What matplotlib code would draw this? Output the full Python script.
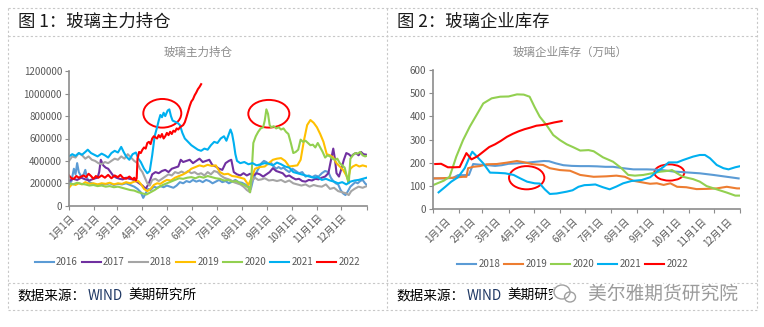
import numpy as np
import matplotlib
matplotlib.use('Agg')
import matplotlib.pyplot as plt
from matplotlib.lines import Line2D
from matplotlib.patches import Ellipse
from matplotlib.transforms import IdentityTransform
import matplotlib.patheffects as pe

plt.rcParams['font.family'] = ['Noto Sans CJK SC', 'DejaVu Sans']

W, H = 764, 327

# 月初位置（按自然日），最后一个为年末
month_days = [0, 31, 59, 90, 120, 151, 181, 212, 243, 273, 304, 334, 365]
month_labels = [f'{m}月1日' for m in range(1, 13)]

# ---------------- 图1 玻璃主力持仓（单位：千手） ----------------
d16 = [0, 3, 6, 8, 10, 12, 15, 18, 20, 22, 25, 28, 32, 36, 40, 45, 50, 55, 60, 65,
       70, 75, 80, 84, 88, 91, 94, 97, 100, 104, 108, 112, 116, 120, 124, 128, 132, 136, 140, 144,
       148, 152, 156, 160, 164, 168, 172, 176, 180, 184, 188, 192, 196, 200, 204, 208, 212, 216, 220, 223,
       226, 230, 233, 236, 239, 242, 245, 248, 251, 254, 257, 260, 263, 266, 270, 274, 278, 282, 286, 290,
       294, 298, 302, 306, 310, 314, 318, 321, 324, 327, 330, 333, 336, 339, 342, 345, 348, 351, 354, 357,
       360, 363, 365]
oi16 = [190, 220, 330, 280, 380, 300, 260, 280, 320, 250, 210, 200, 190, 185, 195, 190, 200, 185, 195, 190,
        200, 185, 170, 150, 120, 70, 110, 150, 140, 170, 160, 175, 165, 180, 170, 160, 180, 210, 200, 220,
        210, 230, 215, 225, 210, 230, 220, 200, 215, 230, 210, 220, 200, 215, 230, 210, 205, 190, 170, 150,
        240, 300, 340, 380, 400, 390, 370, 380, 350, 330, 345, 330, 340, 320, 300, 330, 310, 290, 300, 260,
        270, 255, 270, 260, 290, 310, 300, 250, 220, 200, 190, 140, 110, 95, 130, 170, 190, 210, 200, 220,
        230, 200, 185]

d17 = [0, 5, 10, 15, 20, 25, 30, 35, 37, 39, 42, 45, 48, 51, 54, 58, 62, 66, 70, 74,
       78, 82, 86, 90, 94, 98, 102, 106, 110, 114, 118, 122, 126, 130, 134, 137, 140, 144, 148, 152,
       156, 160, 164, 168, 172, 176, 180, 184, 188, 192, 196, 199, 202, 206, 210, 214, 218, 222, 226, 230,
       234, 238, 242, 246, 250, 254, 258, 262, 266, 270, 274, 278, 282, 286, 290, 294, 298, 302, 306, 310,
       314, 318, 321, 324, 326, 328, 331, 334, 337, 340, 343, 346, 349, 352, 355, 358, 361, 365]
oi17 = [220, 240, 230, 250, 235, 225, 240, 250, 300, 410, 360, 340, 330, 300, 270, 250, 240, 235, 250, 240,
        235, 220, 200, 180, 150, 200, 280, 300, 290, 310, 320, 300, 330, 340, 350, 410, 390, 400, 410, 380,
        400, 420, 390, 400, 410, 360, 350, 330, 320, 380, 400, 410, 300, 280, 270, 290, 270, 285, 270, 290,
        280, 260, 280, 300, 335, 310, 300, 290, 260, 270, 250, 235, 240, 220, 215, 230, 225, 240, 235, 250,
        260, 290, 400, 510, 420, 290, 260, 330, 410, 470, 460, 440, 460, 470, 450, 480, 460, 455]

d18 = [0, 4, 8, 12, 16, 20, 24, 28, 32, 36, 40, 44, 48, 52, 56, 60, 64, 68, 72, 76,
       80, 84, 87, 90, 93, 96, 99, 102, 106, 110, 114, 118, 122, 126, 130, 134, 138, 142, 146, 150,
       154, 158, 162, 166, 170, 174, 178, 182, 186, 190, 194, 198, 202, 206, 210, 214, 218, 222, 224, 228,
       232, 236, 240, 245, 250, 255, 260, 265, 270, 275, 280, 285, 290, 295, 300, 305, 310, 315, 320, 325,
       330, 335, 340, 343, 346, 350, 355, 360, 365]
oi18 = [400, 440, 430, 470, 450, 420, 440, 410, 400, 380, 370, 390, 380, 400, 420, 410, 440, 420, 460, 430,
        400, 380, 330, 300, 250, 200, 180, 230, 240, 220, 240, 260, 280, 270, 300, 290, 305, 290, 310, 290,
        300, 280, 290, 270, 300, 280, 310, 300, 270, 250, 240, 230, 210, 200, 190, 170, 140, 120, 220, 250,
        230, 235, 245, 225, 230, 220, 230, 210, 225, 200, 190, 180, 190, 170, 185, 175, 170, 190, 150, 160,
        130, 120, 110, 95, 130, 150, 170, 160, 175]

d19 = [0, 4, 8, 12, 16, 20, 25, 30, 35, 40, 45, 50, 55, 60, 65, 70, 75, 80, 85, 88,
       92, 96, 100, 104, 108, 112, 116, 120, 125, 130, 135, 140, 145, 150, 155, 160, 165, 170, 175, 180,
       185, 190, 195, 200, 205, 210, 215, 220, 224, 228, 234, 240, 245, 250, 255, 260, 265, 270, 275, 280,
       284, 288, 292, 296, 300, 304, 308, 312, 316, 320, 324, 328, 332, 336, 340, 342, 345, 348, 352, 356,
       360, 365]
oi19 = [160, 195, 185, 200, 190, 210, 195, 200, 190, 200, 195, 205, 190, 200, 195, 210, 200, 215, 220, 195,
        150, 130, 150, 185, 200, 195, 215, 230, 225, 250, 265, 280, 300, 330, 345, 360, 350, 365, 355, 360,
        300, 280, 285, 265, 260, 250, 240, 185, 250, 330, 345, 350, 380, 410, 420, 425, 400, 350, 355, 360,
        410, 580, 720, 765, 740, 700, 640, 570, 460, 450, 430, 380, 350, 320, 270, 230, 330, 350, 365, 350,
        360, 350]

d20 = [0, 5, 10, 15, 20, 25, 30, 35, 40, 45, 50, 55, 60, 65, 70, 75, 80, 85, 90, 95,
       100, 105, 110, 115, 120, 125, 130, 135, 140, 145, 150, 155, 160, 165, 170, 175, 180, 185, 190, 195,
       200, 205, 210, 215, 220, 222, 224, 226, 229, 232, 235, 238, 240, 242, 244, 246, 248, 251, 254, 257,
       260, 263, 266, 269, 272, 275, 278, 281, 284, 287, 290, 293, 296, 299, 302, 305, 308, 311, 314, 317,
       320, 323, 326, 329, 332, 335, 338, 341, 343, 345, 348, 351, 354, 357, 360, 363, 365]
oi20 = [200, 190, 205, 195, 190, 180, 185, 175, 180, 170, 175, 165, 170, 160, 150, 140, 135, 120, 110, 100,
        120, 140, 165, 185, 200, 215, 230, 245, 240, 250, 255, 245, 260, 250, 265, 255, 245, 240, 225, 230,
        215, 220, 200, 185, 160, 120, 300, 560, 620, 660, 690, 700, 760, 860, 820, 720, 700, 710, 690, 700,
        680, 690, 660, 640, 560, 470, 480, 500, 590, 570, 580, 560, 540, 545, 520, 560, 520, 480, 430, 450,
        440, 420, 410, 420, 380, 360, 340, 250, 200, 420, 450, 470, 465, 480, 450, 440, 445]

d21 = [0, 4, 8, 12, 16, 20, 23, 27, 31, 35, 40, 44, 48, 52, 56, 60, 64, 67, 70, 74,
       78, 82, 85, 88, 92, 96, 99, 102, 105, 108, 110, 112, 114, 116, 118, 121, 123, 125, 127, 130,
       133, 136, 139, 142, 146, 150, 154, 158, 162, 166, 170, 174, 178, 182, 186, 190, 193, 196, 198, 200,
       202, 204, 206, 210, 215, 220, 225, 230, 235, 240, 245, 250, 255, 260, 265, 270, 275, 280, 285, 290,
       295, 300, 305, 310, 315, 320, 325, 330, 335, 340, 345, 350, 355, 360, 365]
oi21 = [440, 460, 445, 470, 455, 480, 500, 470, 455, 440, 465, 450, 430, 470, 490, 475, 525, 480, 440, 410,
        460, 475, 420, 390, 330, 290, 310, 450, 620, 700, 760, 810, 790, 830, 800, 850, 860, 800, 760, 750,
        740, 720, 650, 600, 570, 540, 520, 500, 490, 510, 500, 540, 570, 560, 600, 620, 580, 640, 680, 640,
        560, 460, 400, 380, 390, 370, 380, 360, 370, 380, 375, 360, 385, 370, 350, 340, 300, 290, 280, 270,
        260, 250, 255, 230, 240, 225, 215, 200, 210, 190, 215, 225, 230, 240, 250]

d22 = [0, 3, 6, 9, 12, 15, 18, 21, 24, 27, 30, 33, 36, 40, 44, 48, 52, 56, 60, 63,
       66, 70, 74, 78, 80, 82, 83, 84, 86, 88, 90, 92, 94, 96, 98, 100, 102, 104, 106, 108,
       110, 112, 114, 116, 118, 120, 122, 124, 126, 128, 130, 132, 134, 136, 138, 140, 142, 144, 146, 148,
       150, 152, 154, 156, 158, 160, 162]
oi22 = [270, 245, 240, 265, 250, 260, 270, 255, 285, 265, 240, 265, 250, 270, 250, 275, 245, 270, 255, 275,
        250, 240, 260, 235, 250, 225, 245, 420, 480, 470, 500, 520, 510, 560, 570, 550, 600, 620, 610, 600,
        630, 610, 640, 600, 620, 650, 630, 660, 640, 670, 660, 690, 680, 700, 710, 720, 745, 790, 840, 890,
        930, 950, 985, 1010, 1040, 1060, 1085]

oi_series = [('2016', d16, oi16, '#5B9BD5'), ('2017', d17, oi17, '#7030A0'),
             ('2018', d18, oi18, '#A5A5A5'), ('2019', d19, oi19, '#FFC000'),
             ('2020', d20, oi20, '#92D050'), ('2021', d21, oi21, '#00B0F0'),
             ('2022', d22, oi22, '#FF0000')]

# ---------------- 图2 玻璃企业库存（万吨，周度） ----------------
sd18 = [1, 12, 24, 30, 36, 43, 48, 56, 66, 74, 82, 90, 100, 112, 123, 132, 138, 146, 155, 165,
        175, 185, 195, 205, 214, 226, 238, 254, 270, 285, 301, 317, 333, 349, 363]
st18 = [133, 133, 135, 147, 147, 148, 195, 192, 190, 187, 190, 196, 198, 201, 205, 208, 207, 198, 190, 187,
        186, 186, 185, 183, 183, 177, 172, 172, 170, 163, 159, 155, 148, 140, 133]

sd19 = [1, 12, 24, 36, 40, 42, 48, 56, 64, 76, 88, 100, 108, 119, 131, 139, 151, 163, 175, 191,
        206, 218, 228, 238, 250, 258, 266, 274, 282, 290, 301, 313, 325, 337, 349, 361, 365]
st19 = [133, 134, 136, 140, 140, 177, 183, 186, 194, 195, 201, 208, 203, 194, 191, 177, 169, 166, 148, 140,
        142, 145, 140, 123, 115, 110, 112, 105, 112, 97, 95, 87, 88, 90, 97, 90, 90]

sd20 = [1, 13, 20, 24, 28, 36, 44, 52, 60, 70, 80, 90, 100, 108, 115, 121, 127, 135, 143, 151,
        159, 167, 175, 185, 191, 202, 214, 224, 232, 240, 250, 260, 270, 280, 284, 290, 297, 309, 317, 325,
        337, 349, 359, 365]
st20 = [105, 123, 140, 183, 227, 298, 356, 406, 456, 478, 485, 486, 495, 494, 485, 440, 399, 363, 320, 298,
        280, 267, 253, 255, 250, 224, 205, 177, 148, 145, 148, 155, 162, 166, 169, 155, 140, 130, 119, 100,
        86, 72, 59, 59]

sd21 = [7, 15, 22, 30, 38, 44, 47, 53, 60, 68, 77, 86, 96, 104, 112, 121, 127, 133, 139, 147,
        159, 166, 173, 180, 186, 193, 202, 210, 218, 226, 236, 248, 258, 266, 274, 280, 290, 297, 309, 317,
        323, 329, 337, 345, 351, 359, 365]
st21 = [73, 97, 119, 138, 177, 227, 248, 225, 198, 158, 157, 155, 148, 133, 119, 112, 111, 86, 66, 68,
        76, 82, 97, 104, 105, 107, 95, 86, 98, 112, 122, 126, 138, 162, 183, 202, 202, 212, 227, 234,
        234, 220, 191, 177, 172, 181, 186]

sd22 = [3, 10, 18, 26, 32, 40, 46, 53, 60, 67, 74, 81, 88, 95, 102, 109, 116, 123, 130, 137,
        144, 153]
st22 = [195, 196, 181, 181, 182, 242, 215, 228, 248, 268, 280, 295, 312, 325, 336, 345, 352, 360, 363, 368,
        374, 380]

stock_series = [('2018', sd18, st18, '#5B9BD5'), ('2019', sd19, st19, '#ED7D31'),
                ('2020', sd20, st20, '#92D050'), ('2021', sd21, st21, '#00B0F0'),
                ('2022', sd22, st22, '#FF0000')]


def fx(x):
    return x / W


def fy(y):
    return 1 - y / H


fig = plt.figure(figsize=(W / 100, H / 100), dpi=100)
fig.patch.set_facecolor('white')

# 虚线外框
box_kw = dict(color='#c8c8c8', lw=0.8, ls=(0, (2, 2)))
for y in [8.3, 35.7, 283, 310]:
    fig.add_artist(Line2D([fx(8.3), fx(756.7)], [fy(y), fy(y)], **box_kw))
for x in [8.3, 386.7, 756.7]:
    fig.add_artist(Line2D([fx(x), fx(x)], [fy(8.3), fy(310)], **box_kw))

# 标题
fig.text(fx(18), fy(21.5), '图 1：玻璃主力持仓', fontsize=12.5, va='center', ha='left', color='#1a1a1a')
fig.text(fx(397), fy(21.5), '图 2：玻璃企业库存', fontsize=12.5, va='center', ha='left', color='#1a1a1a')
fig.text(fx(198), fy(52), '玻璃主力持仓', fontsize=8.3, va='center', ha='center', color='#8c8c8c')
fig.text(fx(570), fy(52), '玻璃企业库存（万吨）', fontsize=8.3, va='center', ha='center', color='#8c8c8c')

# 数据来源
for x0 in [17, 396]:
    fig.text(fx(x0), fy(296), '数据来源：', fontsize=9.8, va='center', ha='left', color='black')
    fig.text(fx(x0 + 71), fy(296), 'WIND', fontsize=9.8, va='center', ha='left', color='#1f3864')
    fig.text(fx(x0 + 111), fy(296), '美期研究所', fontsize=9.8, va='center', ha='left', color='black')


def style_axis(ax):
    for s in ['top', 'right']:
        ax.spines[s].set_visible(False)
    for s in ['left', 'bottom']:
        ax.spines[s].set_color('#8c8c8c')
        ax.spines[s].set_linewidth(1.2)
    ax.tick_params(axis='both', colors='#8c8c8c', labelcolor='#595959', labelsize=7,
                   length=3, width=0.8, pad=2)
    ax.set_xlim(0, 365)
    ax.set_xticks(month_days)
    ax.set_facecolor('none')


# 图1
ax1 = fig.add_axes([fx(69), fy(205.7), (366.7 - 69) / W, (205.7 - 71.3) / H])
for name, d, v, c in oi_series:
    ax1.plot(d, np.array(v) * 1000, color=c, lw=1.5, label=name)
style_axis(ax1)
ax1.set_ylim(0, 1200000)
ax1.set_yticks(range(0, 1200001, 200000))
ax1.set_yticklabels([str(v) for v in range(0, 1200001, 200000)])
ax1.set_xticklabels(month_labels + [''], rotation=45, ha='right', rotation_mode='anchor')
ax1.add_patch(Ellipse((114.4, 825000), 46.6, 256000, fill=False, ec='#FF0000', lw=1.4, clip_on=False))
ax1.add_patch(Ellipse((245, 821000), 50.3, 247000, fill=False, ec='#FF0000', lw=1.4, clip_on=False))
ax1.legend(ncol=7, loc='center', bbox_to_anchor=(fx(197.3), fy(262.3)), bbox_transform=fig.transFigure,
           frameon=False, fontsize=7, handlelength=1.95, handletextpad=0.25, columnspacing=0.4,
           labelcolor='#595959')

# 图2
ax2 = fig.add_axes([fx(432.7), fy(209.3), (740.3 - 432.7) / W, (209.3 - 70) / H])
for name, d, v, c in stock_series:
    ax2.plot(d, v, color=c, lw=1.5, label=name)
style_axis(ax2)
ax2.set_ylim(0, 600)
ax2.set_yticks(range(0, 601, 100))
ax2.set_xticklabels([])
# 日期标签放在两刻度之间
mid_days = [(a + b) / 2 for a, b in zip(month_days[:-1], month_days[1:])]
ax2.set_xticks(mid_days, minor=True)
ax2.set_xticklabels(month_labels, minor=True, rotation=45, ha='right', rotation_mode='anchor')
ax2.tick_params(axis='x', which='minor', length=0, labelsize=7, labelcolor='#595959', pad=5)
ax2.add_patch(Ellipse((111.5, 136), 41.9, 100, fill=False, ec='#FF0000', lw=1.4, clip_on=False))
ax2.add_patch(Ellipse((280.8, 158.5), 35.6, 70, fill=False, ec='#FF0000', lw=1.4, clip_on=False))
ax2.legend(ncol=5, loc='center', bbox_to_anchor=(fx(572.7), fy(264)), bbox_transform=fig.transFigure,
           frameon=False, fontsize=7, handlelength=1.95, handletextpad=0.25, columnspacing=0.4,
           labelcolor='#595959')

# 水印：图标底下垫白色，盖住后面的文字
px = IdentityTransform()
fig.add_artist(Ellipse((565, H - 294), 26, 22, fc='white', ec='none', transform=px, zorder=5))
icon_kw = dict(fill=False, ec='#a0a0a0', lw=1.0, transform=px, zorder=6)
fig.add_artist(Ellipse((562, H - 292), 16, 14, **icon_kw))
fig.add_artist(Ellipse((570, H - 297), 11, 10, **icon_kw))
fig.text(fx(588), fy(294), '美尔雅期货研究院', fontsize=13.5, va='center', ha='left', color='#9b9b9b',
         path_effects=[pe.withStroke(linewidth=3, foreground='white')], zorder=6)

fig.savefig('out.png', dpi=100)
